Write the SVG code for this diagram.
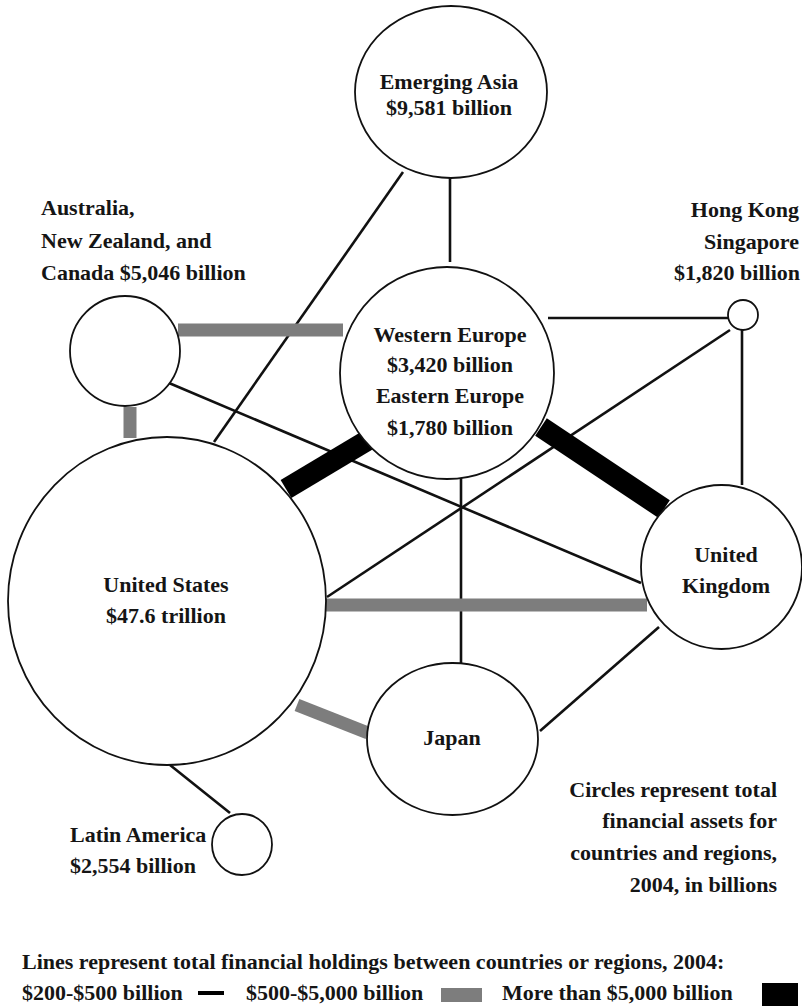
<svg xmlns="http://www.w3.org/2000/svg" width="802" height="1006" viewBox="0 0 802 1006">
<style>
text{font-family:"Liberation Serif","Times New Roman",serif;font-weight:bold;font-size:22px;fill:#151515}
.c{text-anchor:middle}
.e{text-anchor:end}
.node{fill:#fff;stroke:#111;stroke-width:1.8}
.thin{stroke:#111;stroke-width:2.6;fill:none}
.mid{stroke:#7d7d7d;stroke-width:13;fill:none}
.big{stroke:#000;stroke-width:21;fill:none}
</style>
<rect width="802" height="1006" fill="#fff"/>
<g id="connectors">
<line class="thin" x1="403" y1="172" x2="214" y2="442"/>
<line class="thin" x1="450" y1="178" x2="450" y2="262"/>
<line class="thin" x1="548" y1="318" x2="728" y2="318"/>
<line class="thin" x1="730" y1="330" x2="327" y2="597"/>
<line class="thin" x1="742" y1="330" x2="742" y2="485"/>
<line class="thin" x1="169" y1="383" x2="641" y2="583"/>
<line class="thin" x1="461" y1="473" x2="461" y2="663"/>
<line class="thin" x1="540" y1="731" x2="659" y2="627"/>
<line class="thin" x1="170" y1="765" x2="230" y2="813"/>
<line class="mid" x1="178" y1="330" x2="343" y2="330"/>
<line class="mid" x1="130" y1="407" x2="130" y2="438"/>
<line class="mid" x1="326" y1="605" x2="647" y2="605"/>
<line class="mid" x1="297" y1="705" x2="368" y2="733"/>
<line class="big" x1="286" y1="489" x2="368" y2="440"/>
<line class="big" x1="541" y1="427" x2="664" y2="509"/>
</g>
<g id="emerging-asia">
<ellipse class="node" cx="451" cy="92" rx="96" ry="86"/>
<text class="c" x="449" y="89">Emerging Asia</text>
<text class="c" x="449" y="115">$9,581 billion</text>
</g>
<g id="western-europe">
<ellipse class="node" cx="447" cy="373" rx="107" ry="106"/>
<text class="c" x="450" y="342">Western Europe</text>
<text class="c" x="450" y="372">$3,420 billion</text>
<text class="c" x="450" y="403">Eastern Europe</text>
<text class="c" x="450" y="435">$1,780 billion</text>
</g>
<g id="australia">
<circle class="node" cx="125" cy="351" r="55"/>
<text x="41" y="215">Australia,</text>
<text x="41" y="248">New Zealand, and</text>
<text x="41" y="280">Canada $5,046 billion</text>
</g>
<g id="hong-kong">
<circle class="node" cx="743" cy="315" r="15"/>
<text class="e" x="799" y="217">Hong Kong</text>
<text class="e" x="799" y="249">Singapore</text>
<text class="e" x="800" y="280">$1,820 billion</text>
</g>
<g id="united-states">
<ellipse class="node" cx="167" cy="601" rx="159" ry="164"/>
<text class="c" x="166" y="592">United States</text>
<text class="c" x="166" y="623">$47.6 trillion</text>
</g>
<g id="united-kingdom">
<ellipse class="node" cx="721.5" cy="567" rx="80.5" ry="82"/>
<text class="c" x="726" y="562">United</text>
<text class="c" x="726" y="593">Kingdom</text>
</g>
<g id="japan">
<ellipse class="node" cx="452.5" cy="739" rx="85.5" ry="76"/>
<text class="c" x="452" y="745">Japan</text>
</g>
<g id="latin-america">
<ellipse class="node" cx="242" cy="844.5" rx="30" ry="30.5"/>
<text x="70" y="842">Latin America</text>
<text x="70" y="873">$2,554 billion</text>
</g>
<g id="note">
<text class="e" x="777" y="797">Circles represent total</text>
<text class="e" x="777" y="828">financial assets for</text>
<text class="e" x="777" y="860">countries and regions,</text>
<text class="e" x="777" y="892">2004, in billions</text>
</g>
<g id="legend">
<text x="22" y="969">Lines represent total financial holdings between countries or regions, 2004:</text>
<text x="22" y="1000">$200-$500 billion</text>
<line x1="198" y1="993" x2="224" y2="993" stroke="#000" stroke-width="4"/>
<text x="246" y="1000">$500-$5,000 billion</text>
<rect x="441" y="988" width="41" height="14" fill="#7d7d7d"/>
<text x="502" y="1000">More than $5,000 billion</text>
<rect x="762" y="983" width="36" height="23" fill="#000"/>
</g>
</svg>
